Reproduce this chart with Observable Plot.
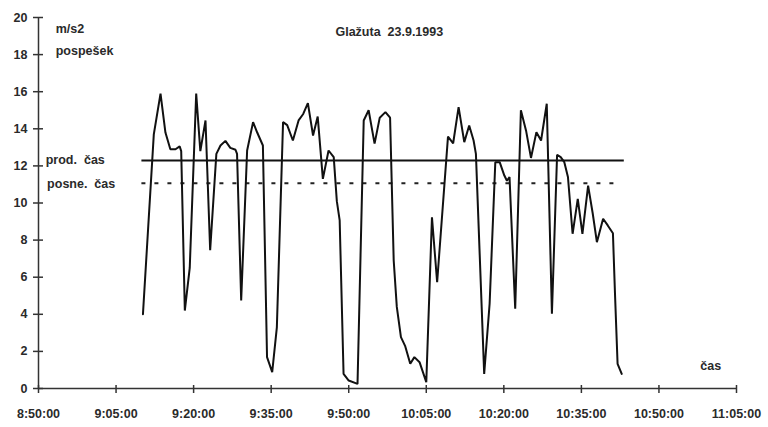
<!DOCTYPE html>
<html>
<head>
<meta charset="utf-8">
<script src="https://cdn.jsdelivr.net/npm/d3@7"></script>
<script src="https://cdn.jsdelivr.net/npm/@observablehq/plot@0.6"></script>
<style>
  html, body { margin: 0; padding: 0; background: #fff; }
  svg { font-family: "Liberation Sans", Arial, sans-serif; }
</style>
</head>
<body>
<div id="chart"></div>
<script>
// Measured acceleration series (time of day, m/s2)
const times = [
  "9:10:12","9:12:18","9:13:36","9:14:33","9:15:30","9:16:30","9:17:18","9:17:36","9:18:18","9:19:15",
  "9:20:30","9:21:18","9:22:18","9:23:12","9:24:24","9:25:12","9:26:09","9:27:06","9:28:06","9:28:24",
  "9:29:12","9:30:21","9:31:30","9:32:18","9:33:24","9:34:12","9:35:12","9:36:06","9:37:18","9:38:06",
  "9:39:12","9:40:18","9:41:12","9:42:06","9:43:06","9:44:00","9:45:00","9:46:06","9:47:06","9:47:42",
  "9:48:15","9:49:00","9:50:00","9:51:42","9:52:54","9:53:51","9:55:00","9:56:00","9:57:06","9:58:00",
  "9:58:42","9:59:18","10:00:06","10:00:54","10:01:54","10:02:42","10:03:42","10:05:00","10:06:06","10:07:06",
  "10:09:12","10:10:12","10:11:15","10:12:21","10:13:18","10:14:09","10:14:36","10:16:12","10:17:15","10:18:21",
  "10:19:12","10:20:06","10:20:36","10:21:06","10:22:12","10:23:18","10:24:18","10:25:15","10:26:18","10:27:12",
  "10:28:18","10:29:18","10:30:18","10:31:00","10:31:42","10:32:24","10:33:18","10:34:18","10:35:12","10:36:18",
  "10:37:12","10:38:00","10:39:12","10:40:06","10:41:06","10:41:30","10:42:00","10:42:48"
];
const values = [
  4.0,13.7,15.9,13.8,12.9,12.9,13.05,12.8,4.2,6.5,
  15.9,12.8,14.45,7.45,12.65,13.1,13.35,12.97,12.87,12.65,
  4.74,12.83,14.36,13.8,13.1,1.69,0.88,3.3,14.36,14.2,
  13.37,14.45,14.8,15.38,13.64,14.66,11.3,12.83,12.47,10.1,
  9.06,0.79,0.43,0.25,14.45,15.0,13.2,14.6,14.9,14.6,
  6.9,4.4,2.77,2.3,1.33,1.69,1.42,0.34,9.23,5.73,
  13.58,13.22,15.17,13.28,14.18,13.37,12.65,0.79,4.57,12.2,
  12.2,11.48,11.2,11.4,4.3,15.0,13.9,12.43,13.82,13.37,
  15.35,4.03,12.6,12.47,12.2,11.4,8.34,10.22,8.34,10.94,
  9.42,7.89,9.15,8.79,8.37,5.1,1.33,0.79
];

// Reference levels
const refNames = ["prod.\u00a0\u00a0čas", "posne.\u00a0\u00a0čas"];
const refValues = [12.29, 11.07];
const refStart = ["9:10:00", "9:10:00"];
const refEnd = ["10:43:18", "10:42:48"];

// Axes
const xDomain = ["8:50:00", "11:05:00"];
const xTickLabels = ["8:50:00","9:05:00","9:20:00","9:35:00","9:50:00","10:05:00","10:20:00","10:35:00","10:50:00","11:05:00"];
const yTicks = [0,2,4,6,8,10,12,14,16,18,20];

// Texts
const titleText = "Glažuta\u00a0\u00a023.9.1993";
const yUnitText = "m/s2";
const yNameText = "pospešek";
const xNameText = "čas";

const parseT = s => { const [h,m,sec] = s.split(":").map(Number); return new Date(1993, 8, 23, h, m, sec); };
const fmt = d3.timeFormat("%-H:%M:%S");

const series = times.map((t, i) => ({t: parseT(t), v: values[i]}));
const refs = refNames.map((n, i) => ({name: n, v: refValues[i], x1: parseT(refStart[i]), x2: parseT(refEnd[i])}));
const xd = xDomain.map(parseT);
const xt = xTickLabels.map(parseT);

const titleAnn = [{t: parseT("9:57:51"), v: 19.2, text: titleText}];
const leftAnn = [
  {t: parseT("8:53:20"), v: 19.4, text: yUnitText},
  {t: parseT("8:53:20"), v: 18.2, text: yNameText},
  {t: parseT("8:51:24"), v: refValues[0] + 0.05, text: refNames[0]},
  {t: parseT("8:51:40"), v: refValues[1] - 0.05, text: refNames[1]},
  {t: parseT("10:58:00"), v: 1.2, text: xNameText}
];

const axisColor = "#333";
const textColor = "#2a2a2a";

const chart = Plot.plot({
  width: 768,
  height: 427,
  marginLeft: 38,
  marginRight: 32,
  marginTop: 17,
  marginBottom: 39,
  style: {fontFamily: "'Liberation Sans', Arial, sans-serif", fontSize: "12px", fontWeight: "bold", background: "#fff"},
  x: {type: "time", domain: xd},
  y: {domain: [0, 20]},
  marks: [
    Plot.ruleY([0], {x1: xd[0], x2: xd[1], stroke: axisColor, strokeWidth: 1.5}),
    Plot.ruleX([xd[0]], {y1: 0, y2: 20, stroke: axisColor, strokeWidth: 1.5}),
    Plot.axisY({ticks: yTicks, tickSize: 10, dx: 5, fill: "none", stroke: axisColor, strokeWidth: 1.5, label: null}),
    Plot.axisY({ticks: yTicks, tickSize: 0, tickPadding: 11, fill: textColor, label: null, fontWeight: "bold", fontSize: 12.5}),
    Plot.axisX({ticks: xt, tickSize: 8, dy: -3, fill: "none", stroke: axisColor, strokeWidth: 1.5, label: null}),
    Plot.axisX({ticks: xt, tickSize: 0, tickPadding: 21, tickFormat: fmt, fill: textColor, label: null, fontWeight: "bold", fontSize: 12.5}),
    Plot.ruleY(refs.slice(0,1), {y: "v", x1: "x1", x2: "x2", stroke: "#111", strokeWidth: 2}),
    Plot.ruleY(refs.slice(1), {y: "v", x1: "x1", x2: "x2", stroke: "#222", strokeWidth: 2, strokeDasharray: "4,9"}),
    Plot.line(series, {x: "t", y: "v", stroke: "#111", strokeWidth: 2, strokeLinejoin: "miter"}),
    Plot.text(titleAnn, {x: "t", y: "v", text: "text", textAnchor: "middle", fill: textColor, fontWeight: "bold", fontSize: 12.5}),
    Plot.text(leftAnn, {x: "t", y: "v", text: "text", textAnchor: "start", fill: textColor, fontWeight: "bold", fontSize: 12.5})
  ]
});
document.getElementById("chart").appendChild(chart);
</script>
</body>
</html>
